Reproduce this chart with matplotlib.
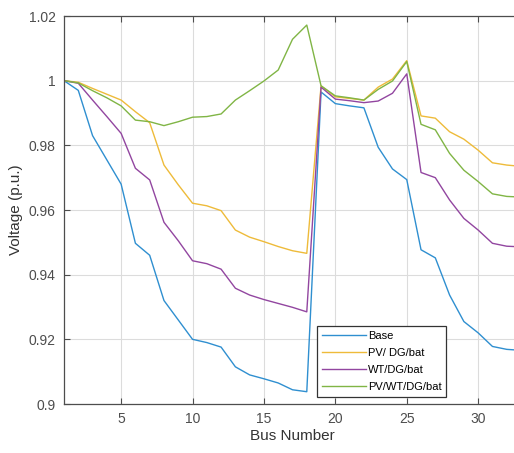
import matplotlib
matplotlib.use("Agg")
from matplotlib import pyplot as plt
import numpy as np

plt.rcParams['font.family'] = ['Liberation Sans', 'DejaVu Sans']

bus = np.arange(1, 34)

base = [1.0, 0.997, 0.983, 0.9755, 0.968, 0.9497, 0.946, 0.932, 0.926, 0.920,
        0.919, 0.9176, 0.9115, 0.909, 0.9078, 0.9065, 0.9044, 0.9038, 0.9965,
        0.9929, 0.9922, 0.9916, 0.9794, 0.9727, 0.9694, 0.9477, 0.9452, 0.9337,
        0.9255, 0.9220, 0.9178, 0.9169, 0.9166]

pv_dg_bat = [1.0, 0.9995, 0.9976, 0.9958, 0.994, 0.9904, 0.987, 0.9739, 0.9678,
             0.9621, 0.9613, 0.9598, 0.9538, 0.9516, 0.9502, 0.9487, 0.9474,
             0.9466, 0.9984, 0.995, 0.9945, 0.994, 0.998, 1.0005, 1.0062, 0.9891,
             0.9884, 0.9842, 0.9819, 0.9785, 0.9746, 0.9739, 0.9735]

wt_dg_bat = [1.0, 0.9992, 0.994, 0.9889, 0.9837, 0.9729, 0.9693, 0.9562, 0.9505,
             0.9443, 0.9434, 0.9417, 0.9358, 0.9337, 0.9323, 0.9311, 0.9299,
             0.9285, 0.998, 0.9943, 0.9938, 0.9932, 0.9937, 0.9961, 1.0021,
             0.9716, 0.970, 0.9631, 0.9574, 0.9538, 0.9497, 0.9488, 0.9486]

pv_wt_dg_bat = [1.0, 0.9993, 0.9969, 0.9947, 0.9922, 0.9878, 0.9873, 0.9861,
                0.9873, 0.9887, 0.9889, 0.9897, 0.994, 0.9969, 0.9999, 1.0033,
                1.0128, 1.0172, 0.9984, 0.9953, 0.9947, 0.994, 0.9973, 0.9999,
                1.0059, 0.9865, 0.9848, 0.9775, 0.9723, 0.9688, 0.965, 0.9642,
                0.964]

series = [base, pv_dg_bat, wt_dg_bat, pv_wt_dg_bat]
names = ["Base", "PV/ DG/bat", "WT/DG/bat", "PV/WT/DG/bat"]
colors = ["#2f8fd0", "#eebb3a", "#9246a0", "#80b545"]

fig = plt.figure(figsize=(5.14, 4.53), dpi=100)
ax = fig.add_axes([64 / 514, 49 / 453, 457 / 514, 388 / 453])

for s, name, c in zip(series, names, colors):
    ax.plot(bus, s, color=c, lw=1.0, label=name)

ax.set_xlim(1, 33)
ax.set_ylim(0.9, 1.02)
ax.set_xticks([5, 10, 15, 20, 25, 30])
yt = [0.9, 0.92, 0.94, 0.96, 0.98, 1.0, 1.02]
ax.set_yticks(yt)
ax.set_yticklabels(["0.9", "0.92", "0.94", "0.96", "0.98", "1", "1.02"])
ax.grid(True, color="#dcdcdc", lw=0.8)
ax.set_axisbelow(True)
ax.tick_params(direction="in", top=True, right=True, length=4, width=0.8,
               colors="#4d4d4d", labelsize=10, pad=6)
for sp in ax.spines.values():
    sp.set_color("#4d4d4d")
    sp.set_linewidth(0.9)

ax.set_xlabel("Bus Number", fontsize=11, color="#333333", labelpad=2)
ax.set_ylabel("Voltage (p.u.)", fontsize=11, color="#333333", labelpad=4)

leg = ax.legend(loc="upper left", bbox_to_anchor=(0.554, 0.201), fontsize=8,
                handlelength=3.9, fancybox=False, framealpha=1,
                edgecolor="#333333", borderpad=0.45, labelspacing=0.62,
                handletextpad=0.2, borderaxespad=0)
leg.get_frame().set_linewidth(0.9)

fig.savefig("out.png", dpi=100)
